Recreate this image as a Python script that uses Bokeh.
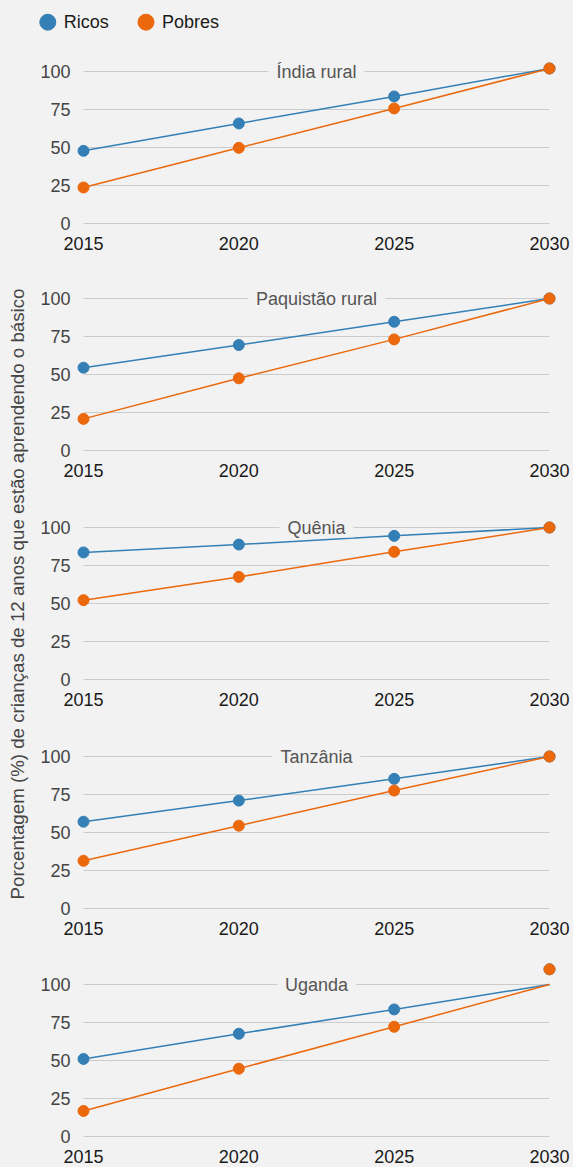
import math
from bokeh.plotting import figure
from bokeh.layouts import row, column
from bokeh.models import Range1d, FixedTicker, Label
from bokeh.embed import file_html
from bokeh.resources import INLINE
from bokeh.core.properties import value

# ---------------- data ----------------
years = [2015, 2020, 2025, 2030]
y_ticks = [0, 25, 50, 75, 100]
regions = ["Índia rural", "Paquistão rural", "Quênia", "Tanzânia", "Uganda"]
series_names = ["Ricos", "Pobres"]
y_title = "Porcentagem (%) de crianças de 12 anos que estão aprendendo o básico"

india_ricos = [47.8, 65.8, 83.6, 102.0]
india_pobres = [23.7, 49.8, 75.7, 102.0]
paquistao_ricos = [54.5, 69.4, 84.7, 100.0]
paquistao_pobres = [20.8, 47.5, 73.1, 100.0]
quenia_ricos = [83.6, 88.8, 94.5, 100.0]
quenia_pobres = [52.2, 67.5, 84.0, 100.0]
tanzania_ricos = [57.1, 71.0, 85.3, 100.0]
tanzania_pobres = [31.4, 54.5, 77.6, 100.0]
uganda_ricos = [51.0, 67.6, 83.6, 100.0]
uganda_pobres = [16.8, 44.6, 72.2, 100.0]
# Uganda markers (2030 marker drawn above the line end)
uganda_ricos_pts = [51.0, 67.6, 83.6, 110.0]
uganda_pobres_pts = [16.8, 44.6, 72.2, 110.0]

lines_ricos = [india_ricos, paquistao_ricos, quenia_ricos, tanzania_ricos, uganda_ricos]
lines_pobres = [india_pobres, paquistao_pobres, quenia_pobres, tanzania_pobres, uganda_pobres]
pts_ricos = [india_ricos, paquistao_ricos, quenia_ricos, tanzania_ricos, uganda_ricos_pts]
pts_pobres = [india_pobres, paquistao_pobres, quenia_pobres, tanzania_pobres, uganda_pobres_pts]

# ---------------- style / layout ----------------
BG = "#f2f2f2"
BLUE = "#3480b6"
ORANGE = "#ec680c"
GRID = "#cccccc"
FONT = "Liberation Sans"
FS = "18px"

TOTAL_W = 573
LABEL_W = 30
PANEL_W = TOTAL_W - LABEL_W
LEGEND_H = 49
PANEL_H = [227, 229, 229, 228, 205]
FRAME_H = 178
FRAME_LEFT = 45
FRAME_W = 482
X_PAD_PX = 8
TOP_PAD_PX = 22
PX_PER_UNIT = 1.52
BODY_H = sum(PANEL_H)

px_per_year = (FRAME_W - 2 * X_PAD_PX) / (years[-1] - years[0])
x_pad = X_PAD_PX / px_per_year
y_max = y_ticks[-1] + TOP_PAD_PX / PX_PER_UNIT
y_min = y_max - FRAME_H / PX_PER_UNIT

panels = []
for i, name in enumerate(regions):
    h = PANEL_H[i]
    p = figure(width=PANEL_W, height=h,
               x_range=Range1d(years[0] - x_pad, years[-1] + x_pad),
               y_range=Range1d(y_min, y_max),
               output_backend="svg", toolbar_location=None,
               min_border_left=FRAME_LEFT,
               min_border_right=PANEL_W - FRAME_LEFT - FRAME_W,
               min_border_top=0, min_border_bottom=h - FRAME_H,
               background_fill_color=BG, border_fill_color=BG,
               outline_line_color=None)
    p.xgrid.visible = False
    p.ygrid.visible = False

    # horizontal gridlines spanning the data years
    p.segment(x0=[years[0]] * len(y_ticks), x1=[years[-1]] * len(y_ticks),
              y0=y_ticks, y1=y_ticks, line_color=GRID, line_width=1)

    p.line(years, lines_ricos[i], line_color=BLUE, line_width=1.5)
    p.line(years, lines_pobres[i], line_color=ORANGE, line_width=1.5)
    p.scatter(years, pts_ricos[i], size=11, fill_color=BLUE, line_color=BLUE)
    p.scatter(years, pts_pobres[i], size=11, fill_color=ORANGE, line_color=ORANGE)

    p.add_layout(Label(x=(years[0] + years[-1]) / 2, y=y_ticks[-1], text=name,
                       text_align="center", text_baseline="middle",
                       text_font=FONT, text_font_size=FS, text_color="#555555",
                       background_fill_color=BG,
                       padding=dict(left=8, right=8, top=0, bottom=0)))

    xa = p.xaxis[0]
    xa.ticker = FixedTicker(ticks=years)
    xa.axis_line_color = None
    xa.major_tick_line_color = None
    xa.minor_tick_line_color = None
    xa.major_tick_out = 0
    xa.major_label_standoff = 9
    xa.major_label_text_font = FONT
    xa.major_label_text_font_size = FS
    xa.major_label_text_color = "#1a1a1a"

    ya = p.yaxis[0]
    ya.ticker = FixedTicker(ticks=y_ticks)
    ya.axis_line_color = None
    ya.major_tick_line_color = None
    ya.minor_tick_line_color = None
    ya.major_tick_out = 0
    ya.major_label_standoff = 5
    ya.major_label_text_font = FONT
    ya.major_label_text_font_size = FS
    ya.major_label_text_color = "#444444"
    panels.append(p)

# ---------------- legend strip ----------------
leg = figure(width=TOTAL_W, height=LEGEND_H,
             x_range=Range1d(0, TOTAL_W), y_range=Range1d(0, LEGEND_H),
             output_backend="svg", toolbar_location=None, min_border=0,
             x_axis_location=None, y_axis_location=None,
             background_fill_color=BG, border_fill_color=BG, outline_line_color=None)
leg.xgrid.visible = False
leg.ygrid.visible = False
leg_x = [47.3, 145.5]
leg_y = LEGEND_H - 21.7
leg.scatter(leg_x, [leg_y] * 2, size=16, fill_color=[BLUE, ORANGE], line_color=[BLUE, ORANGE])
leg.text([x + 16 for x in leg_x], [leg_y] * 2, text=series_names,
         text_font=value(FONT), text_font_size=value(FS), text_color="#1a1a1a",
         text_align="left", text_baseline="middle")

# ---------------- y title strip ----------------
lab = figure(width=LABEL_W, height=BODY_H,
             x_range=Range1d(0, LABEL_W), y_range=Range1d(0, BODY_H),
             output_backend="svg", toolbar_location=None, min_border=0,
             x_axis_location=None, y_axis_location=None,
             background_fill_color=BG, border_fill_color=BG, outline_line_color=None)
lab.xgrid.visible = False
lab.ygrid.visible = False
lab.add_layout(Label(x=17, y=BODY_H - (593.5 - LEGEND_H), text=y_title, angle=math.pi / 2,
                     text_align="center", text_baseline="middle",
                     text_font=FONT, text_font_size="18.7px", text_color="#444444"))

layout = column(leg, row(lab, column(*panels, styles={"background-color": BG}),
                         styles={"background-color": BG}),
                styles={"background-color": BG})

html = file_html(layout, INLINE)
open("out.html", "w").write(html)
